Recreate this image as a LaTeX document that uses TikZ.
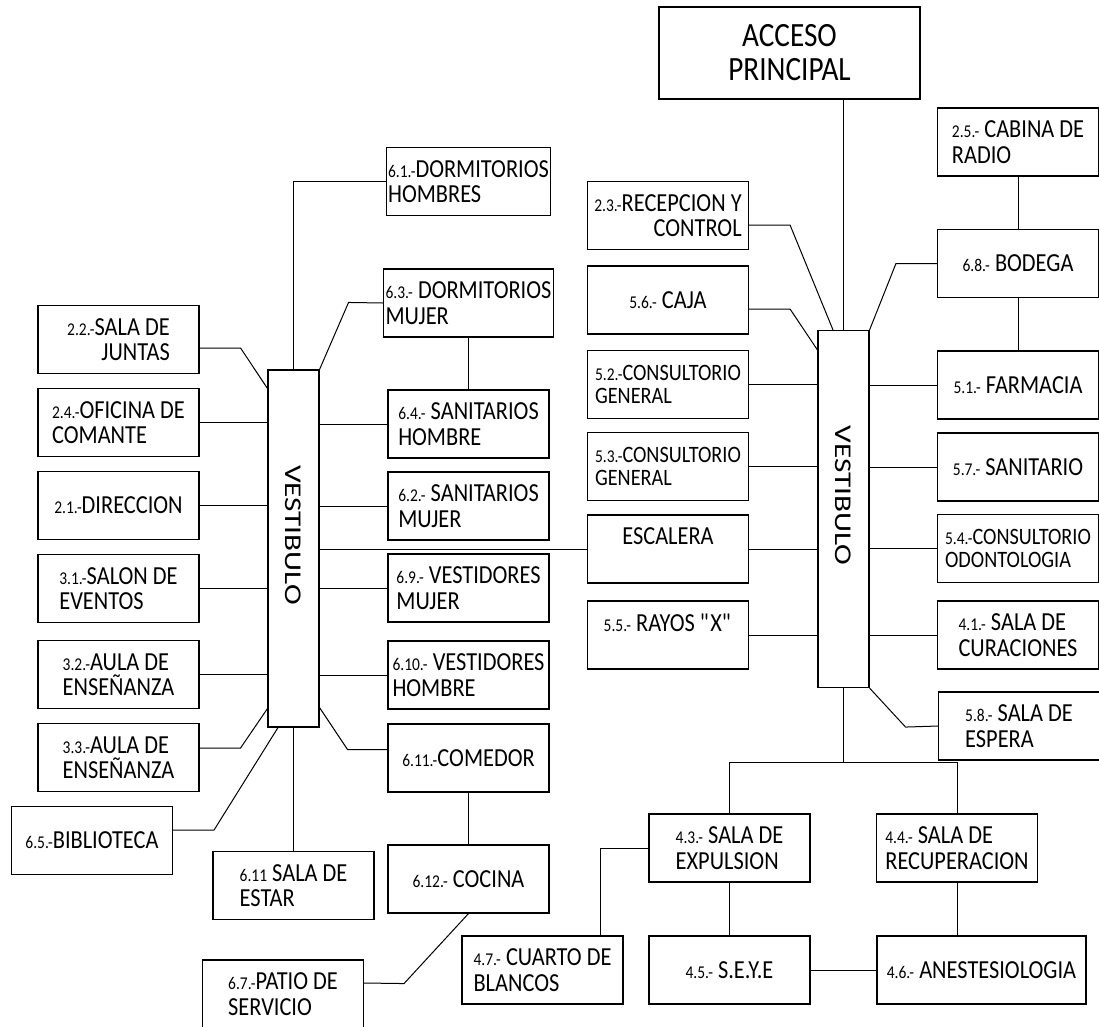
\documentclass[tikz,border=0pt]{standalone}
\usepackage{fontspec}
\usepackage{graphicx}
\setmainfont{Carlito}[FakeStretch=0.86]
\newfontfamily\vestfont{Carlito}[FakeStretch=1.3]
\usetikzlibrary{positioning}

\newcommand{\nro}[1]{{\fontsize{18}{18}\selectfont #1}}
\newcommand{\vesti}{\rotatebox{-90}{\vestfont\fontsize{24}{24}\selectfont VESTIBULO\hspace{27pt}}}

\tikzstyle{sala} = [rectangle, draw=black, line width=1.1pt, minimum width=161pt, minimum height=68pt, inner sep=2pt, align=left, font=\fontsize{26}{25.5}\selectfont]
\tikzstyle{consul} = [sala, font=\fontsize{23.5}{23}\selectfont]
\tikzstyle{vest} = [rectangle, draw=black, line width=1.1pt, minimum width=51pt, minimum height=357pt, inner sep=0pt]
\tikzstyle{linea} = [line width=1pt, black]

\begin{document}
\begin{tikzpicture}[x=1pt, y=-1pt, node distance=83pt]
				\useasboundingbox (0,0) rectangle (1099,1026);
				% lado izquierdo
				\node (b22) [sala, align=right] at (118.5,339.5) {\nro{2.2.-}SALA DE\\JUNTAS};
				\node (b24) [sala, below of=b22] {\nro{2.4.-}OFICINA DE\\COMANTE};
				\node (b21) [sala, below of=b24] {\nro{2.1.-}DIRECCION};
				\node (b31) [sala, below of=b21] {\nro{3.1.-}SALON DE\\EVENTOS};
				\node (b32) [sala, below of=b31, node distance=86pt] {\nro{3.2.-}AULA DE\\ENSEÑANZA};
				\node (b33) [sala, below of=b32] {\nro{3.3.-}AULA DE\\ENSEÑANZA};
				\node (bib) [sala, below of=b33, xshift=-26.5pt] {\nro{6.5.-}BIBLIOTECA};
				\node (vl) [vest] at (293.5,548.5) {\vesti};
				\node (estar) [sala, below of=vl, node distance=337pt] {\nro{6.11} SALA DE\\ESTAR};
				\node (patio) [sala] at (283,994) {\nro{6.7.-}PATIO DE\\SERVICIO};
				% columna central
				\node (m61) [sala] at (468.5,181.5) {\nro{6.1.-}DORMITORIOS\\HOMBRES};
				\node (m63) [sala, below of=m61, node distance=121.5pt] {\nro{6.3.-} DORMITORIOS\\MUJER};
				\node (m64) [sala, below of=m63, node distance=121pt] {\nro{6.4.-} SANITARIOS\\HOMBRE};
				\node (m62) [sala, below of=m64, node distance=82pt] {\nro{6.2.-} SANITARIOS\\MUJER};
				\node (m69) [sala, below of=m62, node distance=82pt] {\nro{6.9.-} VESTIDORES\\MUJER};
				\node (m610) [sala, below of=m69, node distance=87pt] {\nro{6.10.-} VESTIDORES\\HOMBRE};
				\node (m611) [sala, below of=m610] {\nro{6.11.-}COMEDOR};
				\node (m612) [sala, below of=m611, node distance=121pt] {\nro{6.12.-} COCINA};
				% acceso y vestibulo derecho
				\node (acc) [sala, minimum width=261pt, minimum height=92pt, align=center, font=\fontsize{34}{34}\selectfont] at (789.5,53) {ACCESO\\PRINCIPAL};
				\node (c23) [sala, align=right] at (668,215.5) {\nro{2.3.-}RECEPCION Y\\CONTROL};
				\node (caja) [sala, below of=c23, node distance=84.5pt] {\nro{5.6.-} CAJA};
				\node (c52) [consul, below of=caja, node distance=84.5pt] {\nro{5.2.-}CONSULTORIO\\GENERAL};
				\node (c53) [consul, below of=c52, node distance=82pt] {\nro{5.3.-}CONSULTORIO\\GENERAL};
				\node (esc) [sala, below of=c53, node distance=82.5pt] {ESCALERA\\ \mbox{}};
				\node (rayos) [sala, below of=esc, node distance=86pt] {\nro{5.5.-} RAYOS \textquotedbl X\textquotedbl\\ \mbox{}};
				\node (vr) [vest] at (843.5,509) {\vesti};
				\node (cab) [sala] at (1018,142) {\nro{2.5.-} CABINA DE\\RADIO};
				\node (bod) [sala, below of=cab, node distance=121.5pt] {\nro{6.8.-} BODEGA};
				\node (far) [sala, below of=bod, node distance=121.5pt] {\nro{5.1.-} FARMACIA};
				\node (san) [sala, below of=far, node distance=82pt] {\nro{5.7.-} SANITARIO};
				\node (odo) [consul, below of=san, node distance=81.5pt] {\nro{5.4.-}CONSULTORIO\\ODONTOLOGIA};
				\node (cur) [sala, below of=odo, node distance=86.5pt] {\nro{4.1.-} SALA DE\\CURACIONES};
				\node (esp) [sala, below of=cur, node distance=91pt, xshift=1pt] {\nro{5.8.-} SALA DE\\ESPERA};
				% parte baja
				\node (e43) [sala] at (729.5,848) {\nro{4.3.-} SALA DE\\EXPULSION};
				\node (e44) [sala] at (957,848) {\nro{4.4.-} SALA DE\\RECUPERACION};
				\node (e45) [sala, below of=e43, node distance=122pt] {\nro{4.5.-} S.E.Y.E};
				\node (e46) [sala, minimum width=209pt] at (981.5,970) {\nro{4.6.-} ANESTESIOLOGIA};
				\node (b47) [sala, left of=e45, node distance=187pt] {\nro{4.7.-} CUARTO DE\\BLANCOS};

				% conexiones vestibulo izquierdo
				\draw [linea] ([yshift=-8.5pt]b22.east) -- ++(41,0) -- ([yshift=-19pt]vl.north west);
				\draw [linea] (b24.east) -- (b24.east -| vl.west);
				\draw [linea] (b21.east) -- (b21.east -| vl.west);
				\draw [linea] (b31.east) -- (b31.east -| vl.west);
				\draw [linea] (b32.east) -- (b32.east -| vl.west);
				\draw [linea] ([yshift=9.5pt]b33.east) -- ++(41,0) -- ([yshift=19pt]vl.south west);
				\draw [linea] ([yshift=10.5pt]bib.east) -- ++(41,0) -- ([xshift=-15.5pt]vl.south);
				\draw [linea] (vl.south) -- (estar.north);
				\draw [linea] (vl.north) |- (m61.west);
				\draw [linea] (vl.north east) -- ++(29,-67) -- (m63.west);
				\draw [linea] (m63.south) -- (m64.north);
				\draw [linea] (vl.east |- m64.west) -- (m64.west);
				\draw [linea] (vl.east |- m62.west) -- (m62.west);
				\draw [linea] (vl.east |- esc.west) -- (esc.west);
				\draw [linea] (vl.east |- m69.west) -- (m69.west);
				\draw [linea] (vl.east |- m610.west) -- (m610.west);
				\draw [linea] ([yshift=20pt]vl.south east) -- ++(28,42) -- ([yshift=8.5pt]m611.west);
				\draw [linea] (m611.south) -- (m612.north);
				\draw [linea] (m612.south) -- ++(-64.5,70) -- ([yshift=11pt]patio.east);
				% conexiones vestibulo derecho
				\draw [linea] (acc.south -| vr.north) -- (vr.north);
				\draw [linea] ([yshift=-9.5pt]c23.east) -- ++(41,0) -- ([xshift=-10.5pt]vr.north);
				\draw [linea] ([yshift=-9pt]caja.east) -- ++(41,0) -- ([yshift=-20pt]vr.north west);
				\draw [linea] (c52.east) -- (c52.east -| vr.west);
				\draw [linea] (c53.east) -- (c53.east -| vr.west);
				\draw [linea] (esc.east) -- (esc.east -| vr.west);
				\draw [linea] (rayos.east) -- (rayos.east -| vr.west);
				\draw [linea] (cab.south) -- (bod.north);
				\draw [linea] (bod.south) -- (far.north);
				\draw [linea] (bod.west) -- ++(-41,0) -- (vr.north east);
				\draw [linea] (far.west) -- (far.west -| vr.east);
				\draw [linea] (san.west) -- (san.west -| vr.east);
				\draw [linea] (odo.west) -- (odo.west -| vr.east);
				\draw [linea] (cur.west) -- (cur.west -| vr.east);
				\draw [linea] (vr.south east) -- ++(36,39) -- (esp.west);
				\draw [linea] (vr.south) -- ++(0,74) coordinate (nudo);
				\draw [linea] (e43.north) -- (e43.north |- nudo) -- (e44.north |- nudo) -- (e44.north);
				\draw [linea] (e43.south) -- (e45.north);
				\draw [linea] (e44.south) -- (e44.south |- e46.north);
				\draw [linea] (e45.east) -- (e46.west);
				\draw [linea] (e43.west) -| ([xshift=57.5pt]b47.north);
\end{tikzpicture}
\end{document}
